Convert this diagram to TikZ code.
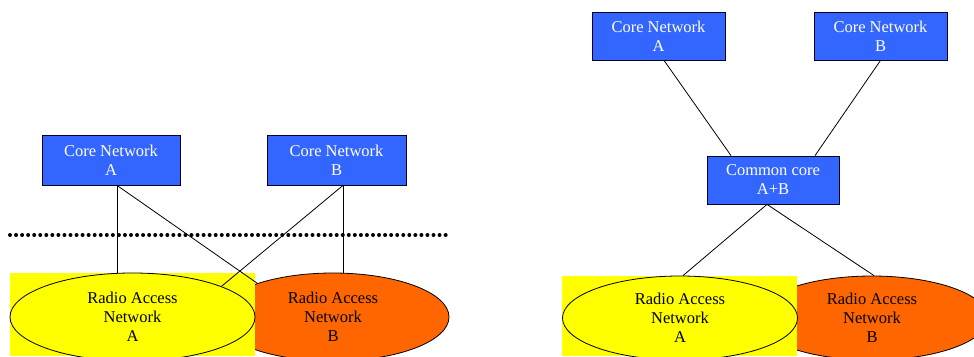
\documentclass[tikz,border=0pt]{standalone}
\usepackage{fontspec}
\setmainfont{Liberation Serif}
\usetikzlibrary{shapes.geometric,calc}
\definecolor{coreblue}{RGB}{51,102,255}
\definecolor{ranyellow}{RGB}{255,255,0}
\definecolor{ranorange}{RGB}{255,102,0}
\tikzset{
  corebox/.style={draw=black!85!blue, line width=0.8pt, fill=coreblue, text=white,
    align=center, inner sep=0pt, font=\fontsize{16.5}{19}\selectfont},
  ranell/.style={ellipse, draw=black, line width=0.8pt, align=center, inner sep=0pt,
    font=\fontsize{16.5}{19}\selectfont},
  link/.style={draw=black, line width=0.8pt},
  sep/.style={line width=4pt, dash pattern=on 0pt off 6.05pt, line cap=round}
}
\begin{document}
\begin{tikzpicture}[x=1pt,y=-1pt]
\clip (0,0) rectangle (974,356);
\fill[white] (0,0) rectangle (974,356);
% ---------- left panel ----------
\node[ranell, fill=ranorange, minimum width=232pt, minimum height=88pt] (ranBL) at (333,317) {Radio Access\\Network\\B};
\fill[ranyellow] (10,273) rectangle (255,356);
\node[ranell, fill=ranyellow, minimum width=245pt, minimum height=88pt] (ranAL) at (132.5,317) {Radio Access\\Network\\A};
\node[corebox, minimum width=138pt, minimum height=50pt] (caL) at (111,160) {Core Network\\A};
\node[corebox, minimum width=139pt, minimum height=50pt] (cbL) at (336.5,160) {Core Network\\B};
\coordinate (dotS) at (10,235);
\coordinate (dotE) at (446,235);
\draw[sep] (dotS) -- (dotE);
\coordinate (aL) at ($(caL.south)+(6,0)$);
\coordinate (bL) at ($(cbL.south)+(6.5,0)$);
\draw[link] (aL) -- (aL |- ranAL.north);
\draw[link] (aL) -- (ranBL.156);
\draw[link] (bL) -- (bL |- ranBL.north);
\draw[link] (bL) -- (ranAL.19);
% ---------- right panel ----------
\node[ranell, fill=ranorange, minimum width=232pt, minimum height=84pt] (ranBR) at (872,318) {Radio Access\\Network\\B};
\fill[ranyellow] (562,276) rectangle (797,356);
\node[ranell, fill=ranyellow, minimum width=235pt, minimum height=84pt] (ranAR) at (680,318) {Radio Access\\Network\\A};
\node[corebox, minimum width=133pt, minimum height=48pt] (caR) at (658.5,36) {Core Network\\A};
\node[corebox, minimum width=133pt, minimum height=48pt] (cbR) at (880.5,36) {Core Network\\B};
\node[corebox, minimum width=132pt, minimum height=48pt] (cc) at (773,180) {Common core\\A+B};
\draw[link] ($(caR.south)+(5.5,0)$) -- ($(cc.north)+(-42,0)$);
\draw[link] (cbR.south) -- ($(cc.north)+(42,0)$);
\draw[link] ($(cc.south)+(-6,0)$) -- ($(ranAR.north)+(3,0)$);
\draw[link] ($(cc.south)+(-6,0)$) -- ($(ranBR.north)+(2,0)$);
\end{tikzpicture}
\end{document}
